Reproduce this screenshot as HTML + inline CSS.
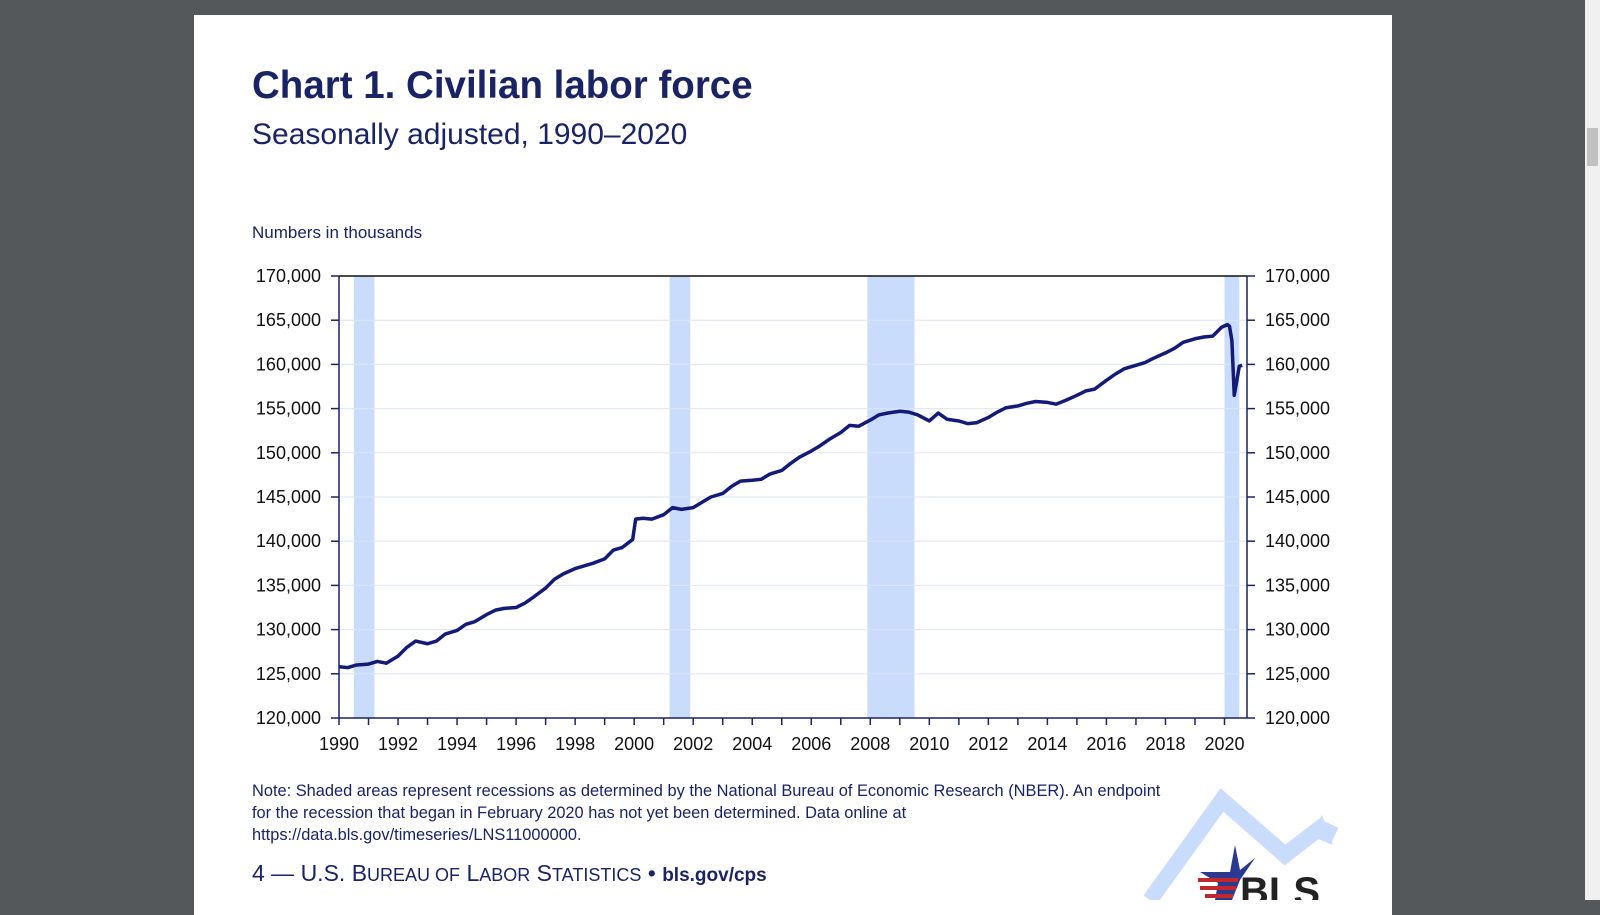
<!DOCTYPE html>
<html><head><meta charset="utf-8"><style>
body{margin:0;width:1600px;height:900px;background:#54585b;overflow:hidden;font-family:"Liberation Sans",sans-serif;position:relative}
.page{position:absolute;left:194px;top:15px;width:1198px;height:900px;background:#fff}
.t{position:absolute;color:#1a2464;white-space:nowrap}
.sb{position:absolute;left:1585px;top:0;width:15px;height:900px;background:#f0f0f0}
</style></head><body>
<div class="page"></div>
<div class="sb"><div style="position:absolute;left:2px;top:128px;width:11px;height:38px;background:#c1c1c1"></div></div>
<div class="t" style="left:252px;top:64px;font-size:38.5px;font-weight:bold">Chart 1. Civilian labor force</div>
<div class="t" style="left:252px;top:118px;font-size:30px">Seasonally adjusted, 1990–2020</div>
<div class="t" style="left:252px;top:223px;font-size:17px">Numbers in thousands</div>
<div class="t" style="left:252px;top:780px;font-size:16.4px;line-height:22px">Note: Shaded areas represent recessions as determined by the National Bureau of Economic Research (NBER). An endpoint<br>for the recession that began in February 2020 has not yet been determined. Data online at<br>https://data.bls.gov/timeseries/LNS11000000.</div>
<div class="t" style="left:252px;top:860px;font-size:23px">4 — U.S. B<span style="font-size:18px">UREAU OF</span> L<span style="font-size:18px">ABOR</span> S<span style="font-size:18px">TATISTICS</span> • <b style="font-size:19px">bls.gov/cps</b></div>
<svg id="c" width="1600" height="900" style="position:absolute;left:0;top:0">
<g>
<polyline points="1150,900 1222,800 1285,855 1320,828 1335,835" fill="none" stroke="#c9dcfb" stroke-width="16"/>
<polygon points="1322,815 1333,845 1308,835" fill="#c9dcfb"/>
<polygon points="1200,872 1230,872 1235,845 1240,870 1255,858 1240,880 1232,900 1215,900 1218,883" fill="#2b3990"/>
<rect x="1198" y="878" width="40" height="4" fill="#c1272d"/><rect x="1200" y="886" width="36" height="4" fill="#c1272d"/><rect x="1205" y="894" width="28" height="4" fill="#c1272d"/>
<text x="1240" y="905" font-size="40" font-weight="bold" fill="#222" font-family="Liberation Sans">BLS</text>
</g>
</svg>
<script>
const yTicks=[120000,125000,130000,135000,140000,145000,150000,155000,160000,165000,170000];
const xTicks=[1990,1992,1994,1996,1998,2000,2002,2004,2006,2008,2010,2012,2014,2016,2018,2020];
const recStart=[1990.5,2001.2,2007.9,2020.0];
const recEnd=[1991.2,2001.9,2009.5,2020.5];
const dates=[1990.0,1990.3,1990.6,1991.0,1991.3,1991.6,1992.0,1992.3,1992.6,1993.0,1993.3,1993.6,1994.0,1994.3,1994.6,1995.0,1995.3,1995.6,1996.0,1996.3,1996.6,1997.0,1997.3,1997.6,1998.0,1998.3,1998.6,1999.0,1999.3,1999.6,1999.95,2000.05,2000.3,2000.6,2001.0,2001.3,2001.6,2002.0,2002.3,2002.6,2003.0,2003.3,2003.6,2004.0,2004.3,2004.6,2005.0,2005.3,2005.6,2006.0,2006.3,2006.6,2007.0,2007.3,2007.6,2008.0,2008.3,2008.6,2009.0,2009.3,2009.6,2010.0,2010.3,2010.6,2011.0,2011.3,2011.6,2012.0,2012.3,2012.6,2013.0,2013.3,2013.6,2014.0,2014.3,2014.6,2015.0,2015.3,2015.6,2016.0,2016.3,2016.6,2017.0,2017.3,2017.6,2018.0,2018.3,2018.6,2019.0,2019.3,2019.6,2019.9,2020.1,2020.17,2020.25,2020.33,2020.42,2020.5,2020.6];
const values=[125800,125700,126000,126100,126400,126200,127000,128000,128700,128400,128700,129500,129900,130600,130900,131700,132200,132400,132500,133000,133700,134700,135700,136300,136900,137200,137500,138000,139000,139300,140200,142500,142600,142500,143000,143800,143600,143800,144400,145000,145400,146200,146800,146900,147000,147600,148000,148800,149500,150200,150800,151500,152300,153100,153000,153700,154300,154500,154700,154600,154300,153600,154500,153800,153600,153300,153400,154000,154600,155100,155300,155600,155800,155700,155500,155900,156500,157000,157200,158200,158900,159500,159900,160200,160700,161300,161800,162500,162900,163100,163200,164200,164500,164300,162700,156500,158200,159800,159900];
const L=339,R=1247,T=276,B=718,X0=1990,X1=2020,XP0=339,XP1=1224.5,Y0=120000,Y1=170000;
const xs=v=>XP0+(v-X0)*(XP1-XP0)/(X1-X0);
const ys=v=>B-(v-Y0)*(B-T)/(Y1-Y0);
const svg=document.getElementById('c');const NS='http://www.w3.org/2000/svg';
function mk(t,a){const e=document.createElementNS(NS,t);for(const k in a)e.setAttribute(k,a[k]);svg.appendChild(e);return e;}
recStart.forEach((s,i)=>{const e=mk('rect',{x:xs(s),y:T,width:xs(recEnd[i])-xs(s),height:B-T,fill:'#c9dcfb'});

});
yTicks.forEach(v=>{const y=ys(v);
if(v>Y0&&v<Y1){const g=mk('line',{x1:L,x2:R,y1:y,y2:y,stroke:'#dde6f5','stroke-width':1});}
mk('line',{x1:L-8,x2:L,y1:y,y2:y,stroke:'#1a2464','stroke-width':1.5});
mk('line',{x1:R,x2:R+8,y1:y,y2:y,stroke:'#1a2464','stroke-width':1.5});
const a=mk('text',{x:L-18,y:y+6,'text-anchor':'end','font-size':18,fill:'#111','font-family':'Liberation Sans'});a.textContent=v.toLocaleString('en-US');


const b=mk('text',{x:R+18,y:y+6,'font-size':18,fill:'#111','font-family':'Liberation Sans'});b.textContent=v.toLocaleString('en-US');

});
for(let yr=1990;yr<=2020;yr++){mk('line',{x1:xs(yr),x2:xs(yr),y1:B,y2:B+7,stroke:'#1a2464','stroke-width':1.5});}
xTicks.forEach(v=>{const t=mk('text',{x:xs(v),y:B+32,'text-anchor':'middle','font-size':18,fill:'#111','font-family':'Liberation Sans'});t.textContent=v;

});
mk('line',{x1:L,x2:R,y1:T,y2:T,stroke:'#111','stroke-width':1.5});
mk('line',{x1:L,x2:R,y1:B,y2:B,stroke:'#1a2464','stroke-width':1.5});
mk('line',{x1:L,x2:L,y1:T,y2:B,stroke:'#1a2464','stroke-width':1.5});
mk('line',{x1:R,x2:R,y1:T,y2:B,stroke:'#1a2464','stroke-width':1.5});
const p=mk('polyline',{points:dates.map((d,i)=>xs(d)+','+ys(values[i])).join(' '),fill:'none',stroke:'#141a78','stroke-width':3.5,'stroke-linejoin':'round'});


</script>
</body></html>
